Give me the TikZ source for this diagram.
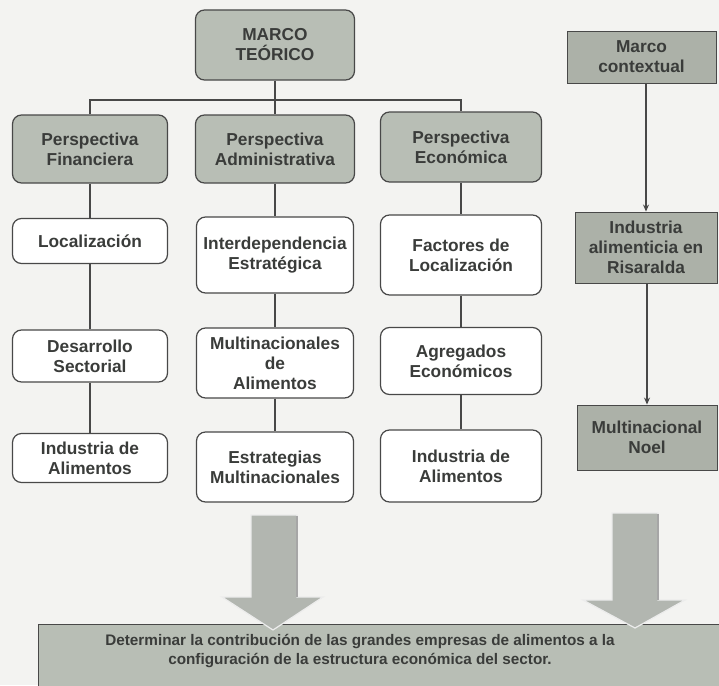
\documentclass[tikz,border=0pt]{standalone}
\usepackage{fontspec}
\setmainfont{Liberation Sans}
\usetikzlibrary{arrows.meta}
\definecolor{bgc}{RGB}{243,243,241}
\definecolor{boxgray}{RGB}{184,190,181}
\definecolor{ctxgray}{RGB}{172,177,168}
\definecolor{txt}{RGB}{58,60,58}
\definecolor{ln}{RGB}{72,72,72}
\definecolor{arrg}{RGB}{178,182,176}
\tikzset{
  base/.style={draw=ln, line width=1.2pt, align=center, text=txt,
    font=\bfseries\fontsize{17.3}{20}\selectfont, inner sep=2pt},
  gbox/.style={base, rounded corners=9pt, fill=boxgray},
  wbox/.style={base, rounded corners=9pt, fill=white},
  rbox/.style={base, line width=0.9pt, fill=ctxgray},
  conn/.style={draw=ln, line width=1.8pt},
  thin/.style={draw=ln, line width=1.1pt, -{Stealth[length=7pt,width=6pt]}},
  bigarrow/.style={fill=arrg, draw=white!85!gray, line width=1.2pt},
}
\begin{document}
\begin{tikzpicture}[x=1pt,y=-1pt]
\useasboundingbox (0,0) rectangle (719,685);
\fill[bgc] (0,0) rectangle (719,685);

% top
\node[gbox, minimum width=159pt, minimum height=70pt] (top) at (275,45) {MARCO\\TEÓRICO};
\node[gbox, minimum width=155pt, minimum height=68pt] (pf) at (90,149) {Perspectiva\\Financiera};
\node[gbox, minimum width=159pt, minimum height=68pt] (pa) at (275,149) {Perspectiva\\Administrativa};
\node[gbox, minimum width=161pt, minimum height=70pt] (pe) at (461,147) {Perspectiva\\Económica};

% left column
\node[wbox, minimum width=155pt, minimum height=45pt] (loc) at (90,241) {Localización};
\node[wbox, minimum width=155pt, minimum height=52pt] (des) at (90,356) {Desarrollo\\Sectorial};
\node[wbox, minimum width=155pt, minimum height=49pt] (ia1) at (90,458) {Industria de\\Alimentos};

% middle column
\node[wbox, minimum width=157pt, minimum height=76pt] (int) at (275,255) {Interdependencia\\Estratégica};
\node[wbox, minimum width=157pt, minimum height=70pt] (mul) at (275,363) {Multinacionales\\de\\Alimentos};
\node[wbox, minimum width=157pt, minimum height=70pt] (est) at (275,467) {Estrategias\\Multinacionales};

% right column
\node[wbox, minimum width=161pt, minimum height=80pt] (fac) at (461,255) {Factores de\\Localización};
\node[wbox, minimum width=161pt, minimum height=67pt] (agr) at (461,361) {Agregados\\Económicos};
\node[wbox, minimum width=161pt, minimum height=72pt] (ia2) at (461,466) {Industria de\\Alimentos};

% context column
\node[rbox, minimum width=149pt, minimum height=52pt] (ctx) at (641.5,57) {Marco\\contextual};
\node[rbox, minimum width=142pt, minimum height=71pt] (ris) at (646,247.5) {Industria\\alimenticia en\\Risaralda};
\node[rbox, minimum width=140pt, minimum height=65pt] (noel) at (647,437.5) {Multinacional\\Noel};

% bottom box
\node[base, line width=0.9pt, fill=boxgray, minimum width=690pt, minimum height=66pt,
  anchor=north west] (goal) at (38,624) {};
\node[text=txt, font=\bfseries\fontsize{15.3}{18}\selectfont, align=center] (goaltxt) at (360,651)
  {Determinar la contribución de las grandes empresas de alimentos a la\\configuración de la estructura económica del sector.};

% connectors
\coordinate (bus) at (275,100);
\draw[conn] (top.south) -- (pa.north);
\draw[conn] (pf.north) -- (pf.north |- bus) -- (pe.north |- bus) -- (pe.north);
\draw[conn] (pf.south) -- (loc.north);
\draw[conn] (loc.south) -- (des.north);
\draw[conn] (des.south) -- (ia1.north);
\draw[conn] (pa.south) -- (int.north);
\draw[conn] (int.south) -- (mul.north);
\draw[conn] (mul.south) -- (est.north);
\draw[conn] (pe.south) -- (fac.north);
\draw[conn] (fac.south) -- (agr.north);
\draw[conn] (agr.south) -- (ia2.north);
\draw[thin] (ris.north |- ctx.south) -- (ris.north);
\draw[thin] (noel.north |- ris.south) -- (noel.north);

% big arrows
\filldraw[bigarrow] (251,515) -- (297,515) -- (297,597) -- (323,597) -- (273,630) -- (222,597) -- (251,597) -- cycle;
\draw[gray!70, line width=1.4pt] (297,516) -- (297,597);
\filldraw[bigarrow] (612,513) -- (658,513) -- (658,600) -- (685,600) -- (635,628) -- (583,600) -- (612,600) -- cycle;
\draw[gray!70, line width=1.4pt] (658,514) -- (658,600);
\end{tikzpicture}
\end{document}
